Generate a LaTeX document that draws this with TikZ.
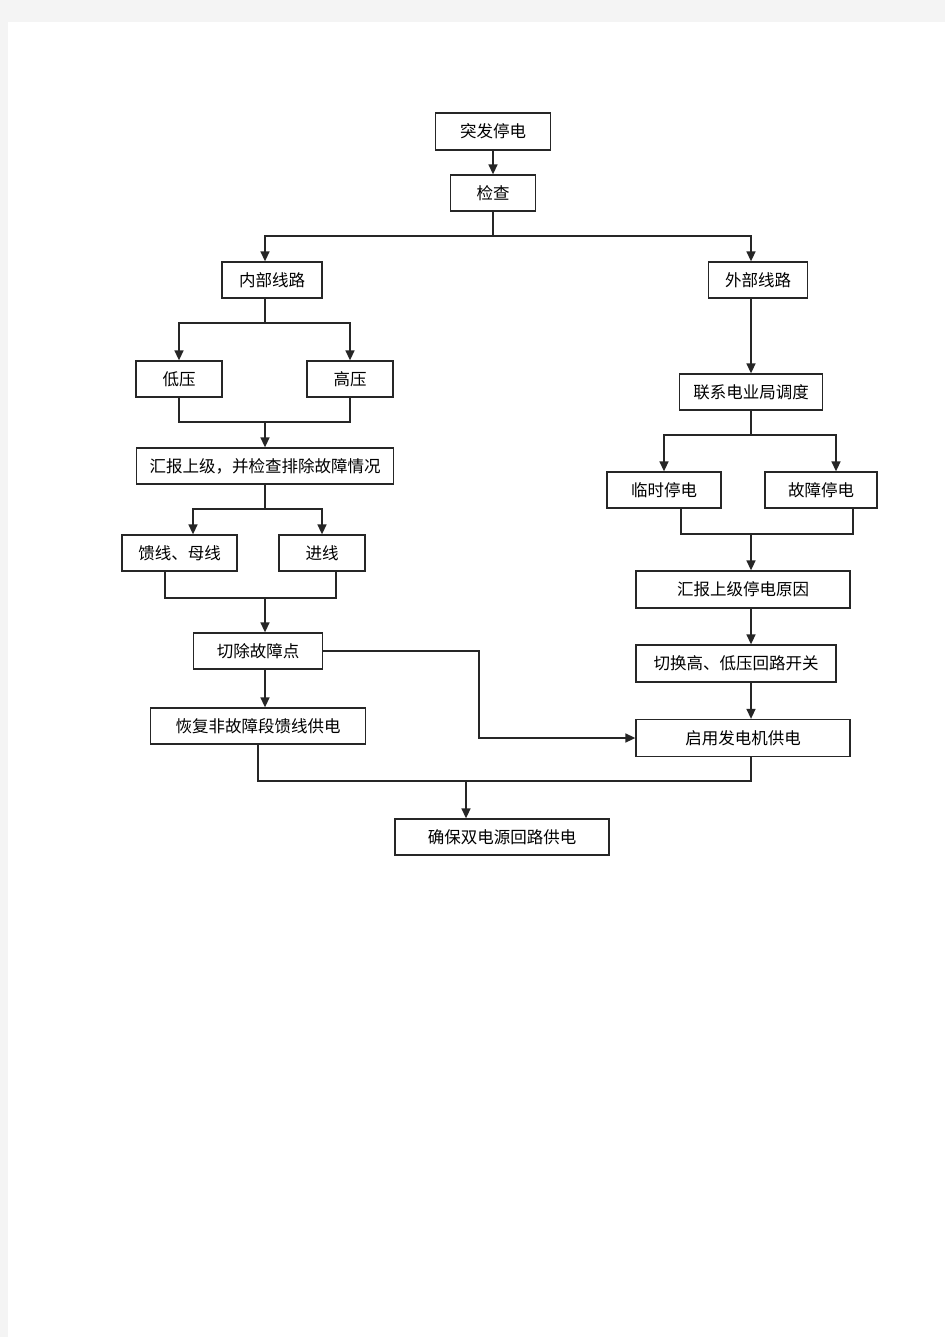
\documentclass[tikz,border=0pt]{standalone}
\usepackage{fontspec}
\usepackage{xcolor}
\usepackage{tikz}
\usetikzlibrary{arrows.meta}
\newfontfamily\cjk{Noto Sans CJK SC}
\definecolor{pagegray}{HTML}{F4F4F4}
\tikzset{
  box/.style={draw=black!85, line width=1.3pt, fill=white, minimum height=36pt,
    inner sep=0pt, font=\cjk\fontsize{16.5}{18}\selectfont},
  line/.style={draw=black!85, line width=1.5pt},
  arr/.style={line, -{Triangle[length=10pt,width=9pt]}}
}
\begin{document}
\begin{tikzpicture}[x=1pt,y=-1pt]
\useasboundingbox (0,0) rectangle (945,1337);
\fill[pagegray] (0,0) rectangle (945,1337);
\fill[white] (8,22) rectangle (945,1337);
% boxes
\node[box, minimum width=115pt, minimum height=37pt] (sudden) at (493,131.5) {突发停电};
\node[box, minimum width=85pt] (check) at (493,193) {检查};
\node[box, minimum width=100pt] (inner) at (272,280) {内部线路};
\node[box, minimum width=99pt] (outer) at (758,280) {外部线路};
\node[box, minimum width=86pt] (low) at (179,379) {低压};
\node[box, minimum width=86pt] (high) at (350,379) {高压};
\node[box, minimum width=257pt] (report1) at (265,466) {汇报上级，并检查排除故障情况};
\node[box, minimum width=115pt] (feeder) at (179.5,553) {馈线、母线};
\node[box, minimum width=86pt] (incoming) at (322,553) {进线};
\node[box, minimum width=129pt] (cut) at (258,651) {切除故障点};
\node[box, minimum width=215pt] (restore) at (258,726) {恢复非故障段馈线供电};
\node[box, minimum width=214pt] (ensure) at (502,837) {确保双电源回路供电};
\node[box, minimum width=143pt] (contact) at (751,392) {联系电业局调度};
\node[box, minimum width=114pt] (temp) at (664,490) {临时停电};
\node[box, minimum width=112pt] (fault) at (821,490) {故障停电};
\node[box, minimum width=214pt, minimum height=37pt] (report2) at (743,589.5) {汇报上级停电原因};
\node[box, minimum width=200pt, minimum height=37pt] (switch) at (736,663.5) {切换高、低压回路开关};
\node[box, minimum width=214pt, minimum height=37pt] (gen) at (743,738) {启用发电机供电};
% junctions
\coordinate (j1) at (493,236);
\coordinate (j2) at (265,323);
\coordinate (j3) at (265,422);
\coordinate (j4) at (265,509);
\coordinate (j5) at (265,598);
\coordinate (j6) at (479,738);
\coordinate (j7) at (466,781);
\coordinate (j8) at (751,435);
\coordinate (j9) at (751,534);
% top
\draw[arr] (sudden) -- (check);
\draw[line] (check) -- (j1);
\draw[arr] (j1) -| ([xshift=-7pt]inner.north);
\draw[arr] (j1) -| ([xshift=-7pt]outer.north);
% left branch
\draw[line] ([xshift=-7pt]inner.south) -- (j2);
\draw[arr] (j2) -| (low);
\draw[arr] (j2) -| (high);
\draw[line] (low) |- (j3) -| (high);
\draw[arr] (j3) -- (report1);
\draw[line] (report1) -- (j4);
\draw[arr] (j4) -| ([xshift=13.5pt]feeder.north);
\draw[arr] (j4) -| (incoming);
\draw[line] ([xshift=-14.5pt]feeder.south) |- (j5) -| ([xshift=14pt]incoming.south);
\draw[arr] (j5) -- (j5 |- cut.north);
\draw[arr] (j5 |- cut.south) -- (j5 |- restore.north);
\draw[arr] (cut.east) -| (j6) -- (gen.west);
\draw[line] (restore) |- (j7) -| (j9 |- gen.south);
\draw[arr] (j7) -- (j7 |- ensure.north);
% right branch
\draw[arr] ([xshift=-7pt]outer.south) -- (contact);
\draw[line] (contact) -- (j8);
\draw[arr] (j8) -| (temp);
\draw[arr] (j8) -| ([xshift=15pt]fault.north);
\draw[line] ([xshift=17pt]temp.south) |- (j9) -| ([xshift=32pt]fault.south);
\draw[arr] (j9) -- (j9 |- report2.north);
\draw[arr] (j9 |- report2.south) -- (j9 |- switch.north);
\draw[arr] (j9 |- switch.south) -- (j9 |- gen.north);
\end{tikzpicture}
\end{document}
